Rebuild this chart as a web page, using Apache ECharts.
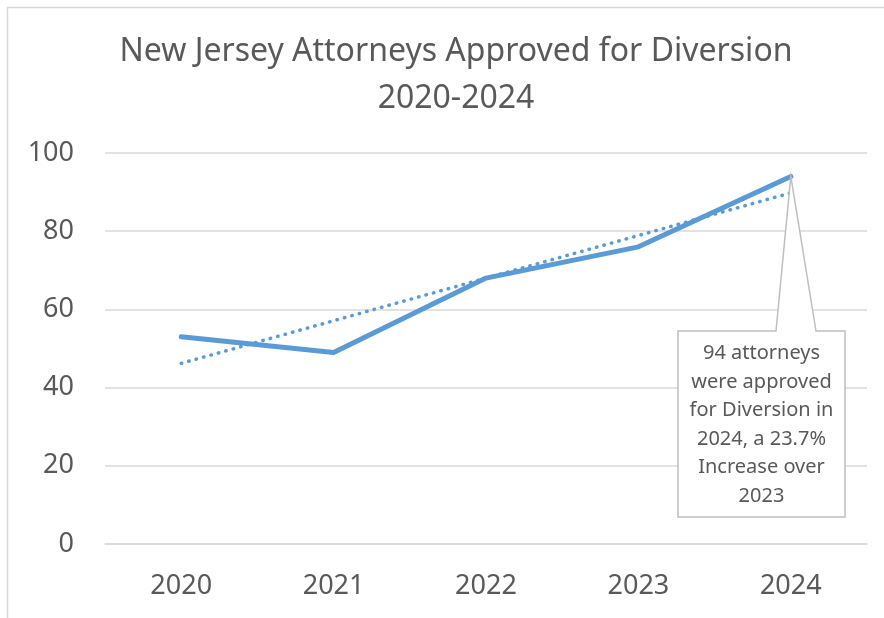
<!DOCTYPE html>
<html><head><meta charset="utf-8">
<script src="https://cdn.jsdelivr.net/npm/echarts@6/dist/echarts.min.js"></script>
<style>html,body{margin:0;padding:0;background:#fff}#c{width:884px;height:618px}</style>
</head><body><div id="c"></div>
<script>
const years = ['2020','2021','2022','2023','2024'];
const approved = [53, 49, 68, 76, 94];
const trend = [46.2, 57.1, 68.0, 78.9, 89.8];
const yTicks = {min: 0, max: 100, interval: 20};
const titleLines = ['New Jersey Attorneys Approved for Diversion', '2020-2024'];
const calloutLines = ['94 attorneys', 'were approved', 'for Diversion in', '2024, a 23.7%', 'Increase over', '2023'];

const FONT = 'Noto Sans';
const chart = echarts.init(document.getElementById('c'), null, {renderer: 'canvas'});
chart.setOption({
  animation: false,
  backgroundColor: '#fff',
  title: {
    text: titleLines.join('\n'), left: 451, top: 23, textAlign: 'center',
    textStyle: {fontFamily: FONT, fontSize: 32, fontWeight: 'normal', color: '#595959', lineHeight: 47}
  },
  grid: {left: 105, right: 17, top: 153, bottom: 74},
  xAxis: {
    type: 'category', data: years, boundaryGap: true,
    axisLine: {lineStyle: {color: '#D9D9D9', width: 1.5}},
    axisTick: {show: false},
    axisLabel: {fontFamily: FONT, fontSize: 27, color: '#595959', margin: 29}
  },
  yAxis: {
    type: 'value', min: yTicks.min, max: yTicks.max, interval: yTicks.interval,
    axisLine: {show: false}, axisTick: {show: false},
    splitLine: {lineStyle: {color: '#D9D9D9', width: 1.5}},
    axisLabel: {fontFamily: FONT, fontSize: 27, color: '#595959', margin: 31}
  },
  series: [
    {type: 'line', data: approved, symbol: 'none', z: 3,
     lineStyle: {color: '#5B9BD5', width: 5, cap: 'round', join: 'round'}},
    {type: 'line', data: trend, symbol: 'none', z: 2,
     lineStyle: {color: '#5B9BD5', width: 3.5, type: [0.5, 7.2], cap: 'round'}}
  ]
});

function drawCallout() {
  const p = chart.convertToPixel({seriesIndex: 0}, [years.length - 1, approved[approved.length - 1]]);
  const L = 678, T = 331, R = 845, B = 517;
  chart.setOption({
    graphic: [
      {type: 'rect', left: 5, top: 5, shape: {x: 0, y: 0, width: 900, height: 700},
       style: {fill: 'none', stroke: '#D9D9D9', lineWidth: 1.5}, silent: true, z: 0},
      {type: 'polygon', z: 100,
       shape: {points: [[L, T], [776, T], [p[0], p[1]], [816, T], [R, T], [R, B], [L, B]]},
       style: {fill: '#fff', stroke: '#BFBFBF', lineWidth: 1.5}},
      {type: 'text', z: 101, x: (L + R) / 2, y: T + 8,
       style: {text: calloutLines.join('\n'), fontFamily: FONT, fontSize: 20, lineHeight: 28.6,
               fill: '#595959', align: 'center', verticalAlign: 'top'}}
    ]
  });
}
drawCallout();
</script></body></html>
